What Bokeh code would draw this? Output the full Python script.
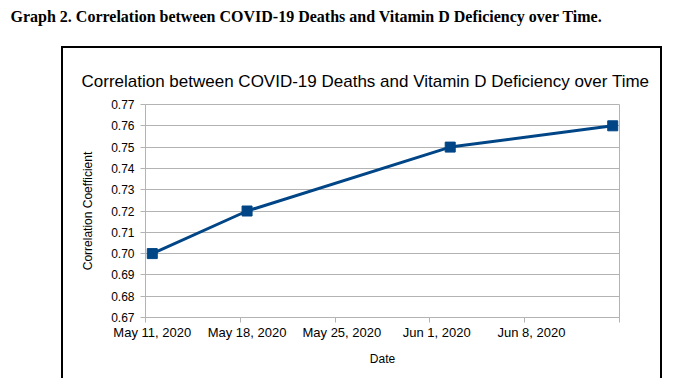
import pandas as pd
from bokeh.plotting import figure
from bokeh.models import Range1d, FixedTicker, Title
from bokeh.embed import file_html
from bokeh.resources import INLINE

# ---- data ----
dates = ["2020-05-11", "2020-05-18", "2020-06-02", "2020-06-14"]
corr = [0.70, 0.72, 0.75, 0.76]
tick_dates = ["2020-05-11", "2020-05-18", "2020-05-25", "2020-06-01", "2020-06-08", "2020-06-15"]
y_ticks = [0.67, 0.68, 0.69, 0.70, 0.71, 0.72, 0.73, 0.74, 0.75, 0.76, 0.77]
y_tick_labels = ["0.67", "0.68", "0.69", "0.70", "0.71", "0.72", "0.73", "0.74", "0.75", "0.76", "0.77"]

heading = "Graph 2. Correlation between COVID-19 Deaths and Vitamin D Deficiency over Time."
chart_title = "Correlation between COVID-19 Deaths and Vitamin D Deficiency over Time"
y_title = "Correlation Coefficient"
x_title = "Date"

# ---- derived positions (day index, point drawn at centre of its day) ----
start = pd.Timestamp(tick_dates[0])
xs = [(pd.Timestamp(d) - start).days + 0.5 for d in dates]
tick_days = [(pd.Timestamp(d) - start).days for d in tick_dates]
label_pos = [t + 0.5 for t in tick_days[:-1]]
x_labels = [pd.Timestamp(d).strftime("%b %-d, %Y") for d in tick_dates[:-1]]

GRAY = "#b3b3b3"
FONT = "Liberation Sans"

W, H = 670, 378
FL, FT = 145, 103
FR = W - 619
FB = H - 317
x0, x1 = tick_days[0], tick_days[-1]
y0, y1 = y_ticks[0], y_ticks[-1]

# box around the chart (left, top, right edges), drawn as CSS backgrounds
BL, BT, BR = 61, 46, 662
box_css = {
    "background-image": "linear-gradient(#000,#000), linear-gradient(#000,#000), linear-gradient(#000,#000)",
    "background-size": f"2px {H}px, {BR - BL}px 2px, 2px {H}px",
    "background-position": f"{BL}px {BT}px, {BL}px {BT}px, {BR - 2}px {BT}px",
    "background-repeat": "no-repeat",
}

p = figure(width=W, height=H, output_backend="svg", toolbar_location=None,
           x_range=Range1d(x0, x1), y_range=Range1d(y0, y1),
           min_border_left=FL, min_border_right=FR, min_border_top=FT, min_border_bottom=FB)
p.styles = box_css
p.background_fill_color = "white"
p.border_fill_color = None
p.outline_line_color = GRAY

xa = p.xaxis[0]
xa.ticker = FixedTicker(ticks=label_pos, minor_ticks=tick_days)
xa.major_label_overrides = {pos: lab for pos, lab in zip(label_pos, x_labels)}
xa.axis_line_color = GRAY
xa.major_tick_line_color = None
xa.major_tick_out = 5
xa.major_tick_in = 0
xa.minor_tick_line_color = GRAY
xa.minor_tick_out = 5
xa.minor_tick_in = 0
xa.major_label_text_font = FONT
xa.major_label_text_font_size = "13px"
xa.major_label_text_color = "black"
xa.major_label_standoff = 2
xa.axis_label = x_title
xa.axis_label_text_font = FONT
xa.axis_label_text_font_size = "12px"
xa.axis_label_text_font_style = "normal"
xa.axis_label_text_color = "black"
xa.axis_label_standoff = 9

ya = p.yaxis[0]
ya.ticker = FixedTicker(ticks=y_ticks)
ya.major_label_overrides = {v: s for v, s in zip(y_ticks, y_tick_labels)}
ya.axis_line_color = GRAY
ya.major_tick_line_color = GRAY
ya.major_tick_out = 5
ya.major_tick_in = 0
ya.minor_tick_line_color = None
ya.major_label_text_font = FONT
ya.major_label_text_font_size = "12px"
ya.major_label_text_color = "black"
ya.major_label_standoff = 6
ya.axis_label = y_title
ya.axis_label_text_font = FONT
ya.axis_label_text_font_size = "12px"
ya.axis_label_text_font_style = "normal"
ya.axis_label_text_color = "black"
ya.axis_label_standoff = 13

p.xgrid.visible = False
p.ygrid.grid_line_color = GRAY

p.line(xs, corr, line_color="#004586", line_width=3)
p.scatter(xs, corr, marker="square", size=10, fill_color="#004586", line_color="#004586")

# chart title (closest to frame), a blank spacer, then the page heading on top
p.add_layout(Title(text=chart_title, text_font=FONT, text_font_size="17px",
                   text_font_style="normal", text_color="black", align="left",
                   offset=81 - FL, standoff=28), "above")
p.add_layout(Title(text=" ", text_font=FONT, text_font_size="1px",
                   text_color="white", align="left", standoff=23), "above")
p.add_layout(Title(text=heading, text_font="Liberation Serif", text_font_size="16px",
                   text_font_style="bold", text_color="black", align="left",
                   offset=10 - FL, standoff=10), "above")

open("out.html", "w").write(file_html(p, INLINE))
